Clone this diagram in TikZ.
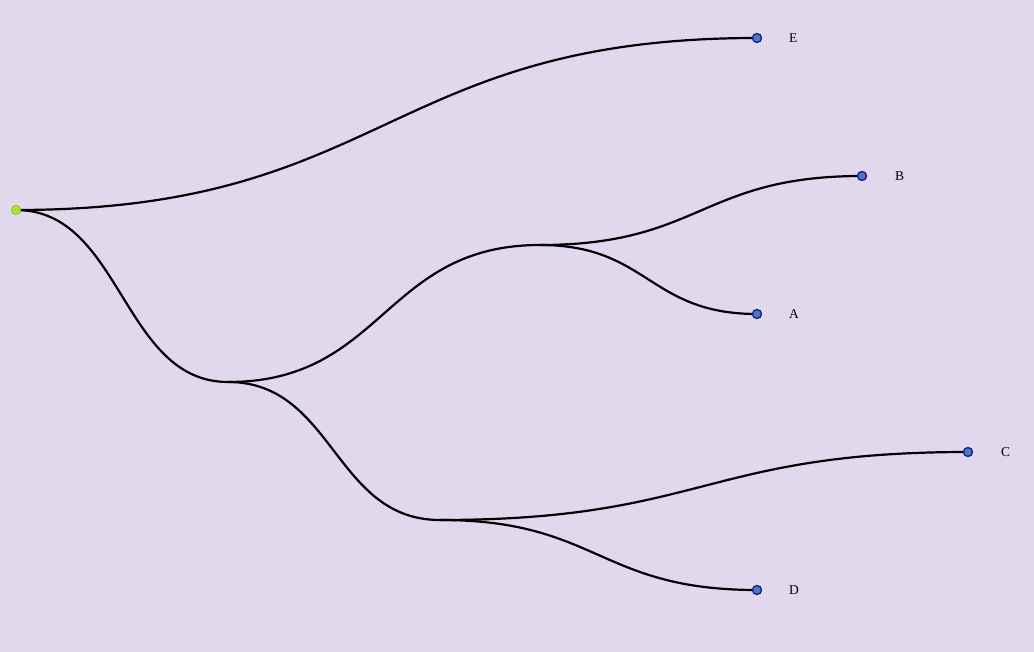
\documentclass[tikz,border=0pt]{standalone}
\usepackage{fontspec}
\setmainfont{Liberation Serif}
\usetikzlibrary{calc}
\definecolor{bg}{RGB}{226,216,238}
\definecolor{rootfill}{RGB}{170,228,50}
\definecolor{rootdraw}{RGB}{140,200,40}
\definecolor{leaffill}{RGB}{72,122,200}
\definecolor{leafdraw}{RGB}{20,30,120}
\begin{document}
\begin{tikzpicture}[x=1pt,y=-1pt,
  rootnode/.style={circle,fill=rootfill,draw=rootdraw,line width=1pt,minimum size=9pt,inner sep=0pt},
  leafnode/.style={circle,fill=leaffill,draw=leafdraw,line width=1.3pt,minimum size=9pt,inner sep=0pt},
  lbl/.style={anchor=west,inner sep=0pt,font=\fontsize{13.5}{15}\selectfont,text=black},
  edge/.style={line width=2.2pt,black},
  sig/.style={to path={let \p1=(\tikztostart), \p2=(\tikztotarget) in .. controls ({(\x1+\x2)/2},\y1) and ({(\x1+\x2)/2},\y2) .. (\tikztotarget) \tikztonodes}}]
\fill[bg] (0,0) rectangle (1034,652);
\useasboundingbox (0,0) rectangle (1034,652);
\coordinate (i1) at (228,382);
\coordinate (i2) at (540,245);
\coordinate (i3) at (440,520);
\coordinate (r0) at (16,210);
\coordinate (cE) at (757,38);
\coordinate (cB) at (862,176);
\coordinate (cA) at (757,314);
\coordinate (cC) at (968,452);
\coordinate (cD) at (757,590);
\draw[edge] (r0) to[sig] (cE);
\draw[edge] (r0) to[sig] (i1);
\draw[edge] (i1) to[sig] (i2);
\draw[edge] (i1) to[sig] (i3);
\draw[edge] (i2) to[sig] (cB);
\draw[edge] (i2) to[sig] (cA);
\draw[edge] (i3) to[sig] (cC);
\draw[edge] (i3) to[sig] (cD);
\node[rootnode] (root) at (r0) {};
\node[leafnode] (E) at (cE) {};
\node[leafnode] (B) at (cB) {};
\node[leafnode] (A) at (cA) {};
\node[leafnode] (C) at (cC) {};
\node[leafnode] (D) at (cD) {};
\node[lbl] (lE) at (789,38.5) {E};
\node[lbl] (lB) at (895,176.5) {B};
\node[lbl] (lA) at (789,314.5) {A};
\node[lbl] (lC) at (1001,452.5) {C};
\node[lbl] (lD) at (789,590.5) {D};
\end{tikzpicture}
\end{document}
